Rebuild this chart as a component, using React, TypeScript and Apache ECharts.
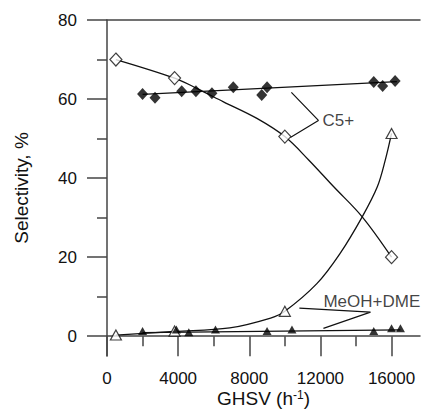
import React, { useEffect, useRef } from "react";
import * as echarts from "echarts";

const c5OpenX = [500, 3800, 10000, 16000];
const c5OpenY = [70, 65.3, 50.5, 20];
const c5CurveX = [500, 3800, 5050, 6550, 8430, 10000, 11340, 12750, 14350, 16000];
const c5CurveY = [70, 65.3, 62.7, 59.3, 55.1, 50.5, 44.6, 37.8, 30.2, 20];
// C5+ (filled diamonds) and trend line
const c5FilledX = [2000, 2700, 4200, 5000, 5900, 7100, 8700, 9000, 15000, 15500, 16200];
const c5FilledY = [61.3, 60.3, 62, 62, 61.5, 63, 61, 63, 64.3, 63.3, 64.6];
const c5TrendX = [2000, 16300];
const c5TrendY = [61.2, 64.4];
// MeOH+DME (open triangles) and fitted curve
const meohOpenX = [500, 3800, 10000, 16000];
const meohOpenY = [0.3, 1.3, 6.3, 51.3];
const meohCurveX = [500, 3800, 6900, 9200, 10000, 11800, 13100, 14350, 15200, 15650, 16000];
const meohCurveY = [0.3, 1.2, 2.1, 4.6, 6.3, 13.3, 20.9, 30.2, 37.8, 44.6, 51.3];
// MeOH+DME (filled triangles) and trend line
const meohFilledX = [2000, 3900, 4600, 6100, 9000, 10400, 15000, 16000, 16500];
const meohFilledY = [1.3, 1.7, 1.0, 1.7, 1.3, 1.7, 1.3, 2.0, 2.0];
const meohTrendX = [2000, 16500];
const meohTrendY = [0.9, 1.6];
// annotation leaders (data coordinates)
const c5LeaderX = [10367, 11888, 10310];
const c5LeaderY = [61.7, 54.6, 50.3];
const meohLeaderX = [10817, 14817, 12169];
const meohLeaderY = [7.1, 6.1, 2.0];
const c5LabelPos = [12113, 54.6];
const meohLabelPos = [12169, 8.9];

const xMajor = [0, 4000, 8000, 12000, 16000];
const xMinor = [2000, 6000, 10000, 14000];
const yMajor = [0, 20, 40, 60, 80];
const yMinor = [10, 30, 50, 70];

const zip = (xs: number[], ys: number[]) => xs.map((x, i) => [x, ys[i]]);

const FONT = "'Liberation Sans', Arial, sans-serif";
const INK = "#111";
const AXIS = "#444";

export default function App() {
  const ref = useRef<HTMLDivElement>(null);
  useEffect(() => {
    if (!ref.current) return;
    const chart = echarts.init(ref.current, undefined, { renderer: "svg" });
    const lineStyle = { color: INK, width: 1.3 };
    const plain = (v: number) => String(v);
    chart.setOption({
      animation: false,
      backgroundColor: "#fff",
      grid: { left: 107, right: 5, top: 20, bottom: 54, containLabel: false, outerBoundsMode: "none" },
      xAxis: [
        {
          type: "value", position: "bottom", min: 0, max: 17600,
          axisLine: { show: true, onZero: true, lineStyle: { color: AXIS, width: 1.5 } },
          axisTick: { show: true, customValues: xMajor, length: 20, lineStyle: { color: AXIS, width: 1.5 } },
          axisLabel: { customValues: xMajor, formatter: plain, margin: 14, fontSize: 17, lineHeight: 17, color: INK, fontFamily: FONT },
          splitLine: { show: false },
          name: "GHSV (h{sup|-1})",
          nameLocation: "middle",
          nameGap: 33,
          nameMoveOverlap: false,
          nameTextStyle: {
            fontSize: 19, lineHeight: 19, color: INK, fontFamily: FONT,
            rich: { sup: { fontSize: 12, lineHeight: 12, verticalAlign: "top", color: INK, fontFamily: FONT } },
          },
        },
        {
          type: "value", position: "bottom", min: 0, max: 17600,
          axisLine: { show: false, onZero: true },
          axisTick: { show: true, customValues: xMinor, length: 10, lineStyle: { color: AXIS, width: 1.5 } },
          axisLabel: { show: false },
          splitLine: { show: false },
        },
        {
          type: "value", position: "top", min: 0, max: 17600,
          axisLine: { show: true, onZero: false, lineStyle: { color: AXIS, width: 1.5 } },
          axisTick: { show: false },
          axisLabel: { show: false },
          splitLine: { show: false },
        },
      ],
      yAxis: [
        {
          type: "value", position: "left", min: -5, max: 80,
          axisLine: { show: true, onZero: false, lineStyle: { color: AXIS, width: 1.5 } },
          axisTick: { show: true, customValues: yMajor, length: 20, lineStyle: { color: AXIS, width: 1.5 } },
          axisLabel: { customValues: yMajor, formatter: plain, margin: 30, fontSize: 17, color: INK, fontFamily: FONT },
          splitLine: { show: false },
          name: "Selectivity, %",
          nameLocation: "middle",
          nameGap: 76,
          nameMoveOverlap: false,
          nameTextStyle: { fontSize: 19, color: INK, fontFamily: FONT },
        },
        {
          type: "value", position: "left", min: -5, max: 80,
          axisLine: { show: false, onZero: false },
          axisTick: { show: true, customValues: yMinor, length: 10, lineStyle: { color: AXIS, width: 1.5 } },
          axisLabel: { show: false },
          splitLine: { show: false },
        },
      ],
      series: [
        { type: "line", data: zip(c5CurveX, c5CurveY), smooth: 0.35, showSymbol: false, symbol: "none", lineStyle, z: 2 },
        { type: "line", data: zip(meohCurveX, meohCurveY), smooth: 0.35, showSymbol: false, symbol: "none", lineStyle, z: 2 },
        { type: "line", data: zip(c5TrendX, c5TrendY), symbol: "none", lineStyle, z: 2 },
        { type: "line", data: zip(meohTrendX, meohTrendY), symbol: "none", lineStyle, z: 2 },
        { type: "line", data: zip(c5LeaderX, c5LeaderY), symbol: "none", lineStyle: { color: INK, width: 1.2 }, z: 2 },
        { type: "line", data: zip(meohLeaderX, meohLeaderY), symbol: "none", lineStyle: { color: INK, width: 1.2 }, z: 2 },
        {
          type: "scatter", data: zip(c5OpenX, c5OpenY), symbol: "diamond", symbolSize: [12, 13],
          itemStyle: { color: "#fff", borderColor: INK, borderWidth: 1.2 }, z: 4,
        },
        {
          type: "scatter", data: zip(c5FilledX, c5FilledY), symbol: "diamond", symbolSize: [11, 12],
          itemStyle: { color: "#000" }, z: 4,
        },
        {
          type: "scatter", data: zip(meohOpenX, meohOpenY), symbol: "triangle", symbolSize: [11, 10],
          itemStyle: { color: "#fff", borderColor: INK, borderWidth: 1.2 }, z: 4,
        },
        {
          type: "scatter", data: zip(meohFilledX, meohFilledY), symbol: "triangle", symbolSize: [9, 8],
          itemStyle: { color: "#000" }, z: 4,
        },
        {
          type: "scatter", data: [c5LabelPos], symbolSize: 0, silent: true,
          label: { show: true, position: "right", distance: 0, formatter: "C5+", fontSize: 17, color: INK, fontFamily: FONT },
          z: 5,
        },
        {
          type: "scatter", data: [meohLabelPos], symbolSize: 0, silent: true,
          label: { show: true, position: "right", distance: 0, formatter: "MeOH+DME", fontSize: 17, color: INK, fontFamily: FONT },
          z: 5,
        },
      ],
    });
    return () => chart.dispose();
  }, []);
  return <div ref={ref} style={{ width: 425, height: 410, position: "absolute", left: 0, top: 0, background: "#fff" }} />;
}
